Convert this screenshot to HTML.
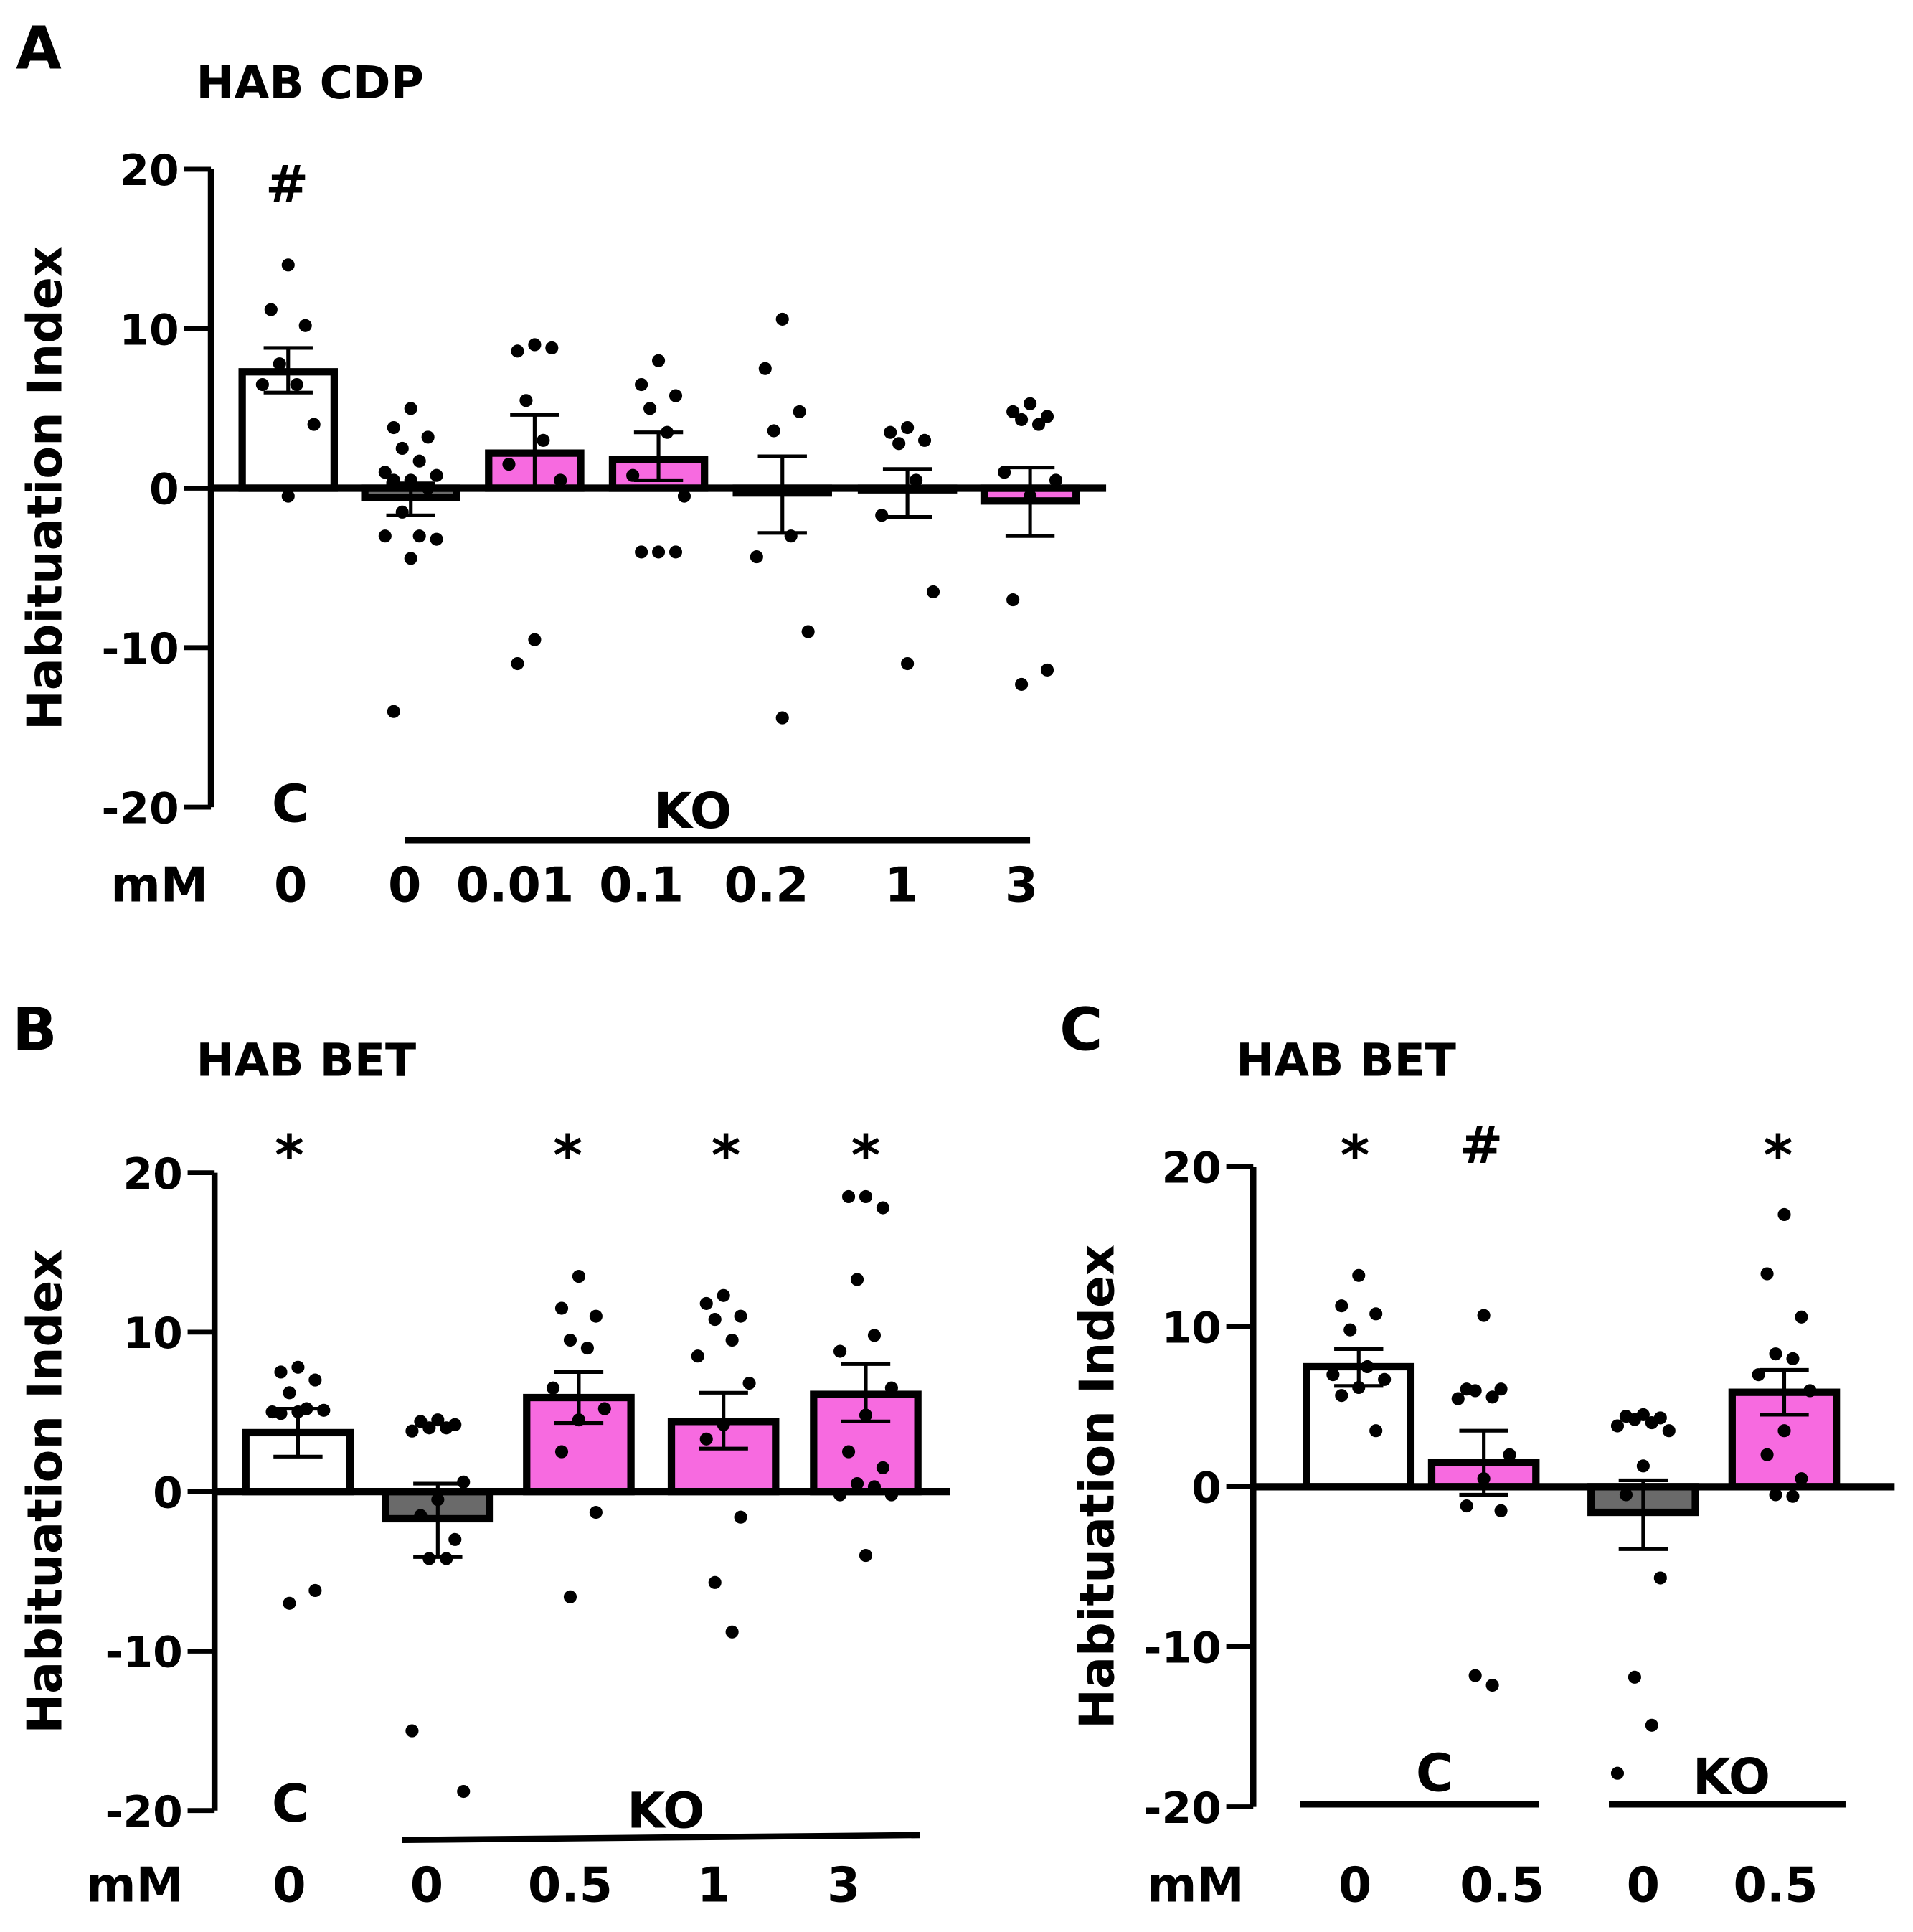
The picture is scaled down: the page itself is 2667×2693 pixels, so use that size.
<!DOCTYPE html>
<html><head><meta charset="utf-8"><style>
html,body{margin:0;padding:0;background:#fff}
svg{display:block}
text{font-family:"DejaVu Sans","Liberation Sans",sans-serif;font-weight:bold;fill:#000}
</style></head><body>
<svg id="fig" width="2667" height="2693" viewBox="0 0 1560 1575" preserveAspectRatio="none" xmlns="http://www.w3.org/2000/svg"></svg>
<script>
// Panel A data
const aCats=["C 0","KO 0","KO 0.01","KO 0.1","KO 0.2","KO 1","KO 3"];
const aMeans=[7.3,-0.6,2.2,1.8,-0.3,-0.1,-0.8];
const aErrLo=[6.0,-1.7,0.0,0.5,-2.8,-1.8,-3.0];
const aErrHi=[8.8,0.3,4.6,3.5,2.0,1.2,1.3];
const aPts=[[14,11.2,10.2,7.8,6.5,6.5,4,-0.5],[5,3.8,3.2,2.5,1.7,1,0.8,0.5,0.5,0,-1.5,-3,-3,-3.2,-4.4,-14],[9,8.6,8.8,5.5,3,1.5,0.5,-9.5,-11],[8,6.5,5.8,5,3.5,0.8,-0.5,-4,-4,-4],[10.6,7.5,4.8,3.6,-3,-4.3,-9,-14.4],[3.8,3.5,3,2.8,0.5,-1.7,-6.5,-11],[5.3,4.8,4.5,4.3,4,1,0.5,-0.5,-7,-11.4,-12.3]];
// Panel B data
const bCats=["C 0","KO 0","KO 0.5","KO 1","KO 3"];
const bMeans=[3.7,-1.7,5.9,4.4,6.1];
const bErrLo=[2.2,-4.1,4.3,2.7,4.4];
const bErrHi=[5.2,0.5,7.5,6.2,8.0];
const bPts=[[7.8,7.5,7,6.2,5.2,5,5.1,5,4.9,-6.2,-7],[4.5,4.4,4.2,4,4,3.8,0.6,-0.5,-1.5,-3,-4.2,-4.2,-15,-18.8],[13.5,11.5,11,9.5,9,6.5,5.2,4.5,2.5,-1.3,-6.6],[12.3,11.8,11,10.8,9.5,8.5,6.8,4.2,3.3,-1.6,-5.7,-8.8],[18.5,18.5,17.8,13.3,9.8,8.8,6.5,4.8,2.5,1.5,0.5,0.3,-0.2,-0.2,-4]];
// Panel C data
const cCats=["C 0","C 0.5","KO 0","KO 0.5"];
const cMeans=[7.5,1.5,-1.6,5.9];
const cErrLo=[6.3,-0.5,-3.9,4.5];
const cErrHi=[8.6,3.5,0.4,7.3];
const cPts=[[13.2,11.3,10.8,9.8,7.5,7,6.7,6.2,5.7,3.5],[10.7,6.1,6.1,6,5.6,5.5,2,0.5,-1.2,-1.5,-11.8,-12.4],[4.5,4.4,4.3,4.2,4,3.8,3.5,1.3,-0.5,-5.7,-11.9,-14.9,-17.9],[17,13.3,10.6,8.3,8,7,6,3.5,2,0.5,-0.5,-0.6]];
const yTicks=[20,10,0,-10,-20];

const NS="http://www.w3.org/2000/svg";
const svg=document.getElementById('fig');
function el(tag,attrs,parent){const e=document.createElementNS(NS,tag);for(const k in attrs)e.setAttribute(k,attrs[k]);(parent||svg).appendChild(e);return e;}
function txt(x,y,s,size,anchor,name,parent){const t=el('text',{x:x,y:y,'font-size':size,'text-anchor':anchor||'middle'},parent);t.textContent=s;


return t;}
const PINK="#f76ae0",GRAY="#6a6a6a",WHITE="#fff";

function panel(o){
  const g=el('g',{});
  
  
  const y=v=>o.y0-v*(o.y0-o.y20)/20;
  const ax=el('line',{x1:o.ax,y1:y(20),x2:o.ax,y2:y(-20),stroke:'#000','stroke-width':5},g);
  
  
  yTicks.forEach(t=>{
    const tk=el('line',{x1:o.ax-22,y1:y(t),x2:o.ax,y2:y(t),stroke:'#000','stroke-width':4},g);
    
    
    txt(o.ax-26,y(t)+13,String(t),35,'end','y-tick-label',g);
  });
  const yt=txt(0,0,'Habituation Index',39,'middle','y-axis-title',g);
  yt.setAttribute('transform','translate('+o.tx+','+((y(20)+y(-20))/2)+') rotate(-90)');
  o.means.forEach((m,i)=>{
    const cx=o.xs[i],w=o.bw;
    const top=Math.min(y(m),y(0)),h=Math.abs(y(m)-y(0));
    const r=el('rect',{x:cx-w/2,y:top,width:w,height:Math.max(h,1),fill:o.fills[i],stroke:'#000','stroke-width':6},g);
    
    
    o.pts[i].forEach((v,j)=>{
      const dx=[0,-14,14,-7,7,-21,21][j%7];
      const c=el('circle',{cx:cx+dx,cy:y(v),r:5.3,fill:'#000'},g);
      
      
    });
    const eb=el('path',{d:'M'+cx+','+y(o.lo[i])+'V'+y(o.hi[i])+'M'+(cx-20)+','+y(o.lo[i])+'h40M'+(cx-20)+','+y(o.hi[i])+'h40',stroke:'#000','stroke-width':3,fill:'none'},g);
    
    
  });
  const z=el('line',{x1:o.ax,y1:y(0),x2:o.zx,y2:y(0),stroke:'#000','stroke-width':6},g);
  
  
  return g;
}

// Panel A
panel({name:'panel-a',ax:172,y20:138,y0:398,tx:50,zx:902,bw:75,xs:[235,335,436,537,638,740,840],means:aMeans,lo:aErrLo,hi:aErrHi,pts:aPts,cats:aCats,fills:[WHITE,GRAY,PINK,PINK,PINK,PINK,PINK]});
txt(13,56,'A',48,'start','panel-label-a');
txt(160,80,'HAB CDP',37,'start','chart-title-a');
txt(234,165,'#',42,'middle','significance-mark');
txt(237,670,'C',42,'middle','group-label-c');
txt(565,675,'KO',40,'middle','group-label-ko');
let l=el('line',{x1:330,y1:685,x2:840,y2:685,stroke:'#000','stroke-width':5});


[['mM',130],['0',237],['0',330],['0.01',420],['0.1',523],['0.2',625],['1',735],['3',833]].forEach(a=>txt(a[1],735,a[0],39,'middle','dose-label'));

// Panel B
panel({name:'panel-b',ax:175,y20:956,y0:1216,tx:50,zx:775,bw:85,xs:[243,357,472,590,706],means:bMeans,lo:bErrLo,hi:bErrHi,pts:bPts,cats:bCats,fills:[WHITE,GRAY,PINK,PINK,PINK]});
txt(10,856,'B',48,'start','panel-label-b');
txt(160,877,'HAB BET',37,'start','chart-title-b');
[236,463,592,706].forEach(x=>txt(x,958,'*',46,'middle','significance-mark'));
txt(237,1485,'C',42,'middle','group-label-c');
txt(543,1490,'KO',40,'middle','group-label-ko');
l=el('line',{x1:328,y1:1500,x2:750,y2:1496,stroke:'#000','stroke-width':5});


[['mM',110],['0',236],['0',348],['0.5',465],['1',582],['3',688]].forEach(a=>txt(a[1],1550,a[0],39,'middle','dose-label'));

// Panel C
panel({name:'panel-c',ax:1022,y20:951,y0:1212,tx:908,zx:1545,bw:85,xs:[1108,1210,1340,1455],means:cMeans,lo:cErrLo,hi:cErrHi,pts:cPts,cats:cCats,fills:[WHITE,PINK,GRAY,PINK]});
txt(864,856,'C',48,'start','panel-label-c');
txt(1008,877,'HAB BET',37,'start','chart-title-c');
txt(1105,958,'*',46,'middle','significance-mark');
txt(1208,948,'#',42,'middle','significance-mark');
txt(1450,958,'*',46,'middle','significance-mark');
txt(1170,1460,'C',42,'middle','group-label-c');
txt(1412,1462,'KO',40,'middle','group-label-ko');
l=el('line',{x1:1060,y1:1471,x2:1255,y2:1471,stroke:'#000','stroke-width':5});


l=el('line',{x1:1312,y1:1471,x2:1505,y2:1471,stroke:'#000','stroke-width':5});


[['mM',975],['0',1105],['0.5',1225],['0',1340],['0.5',1448]].forEach(a=>txt(a[1],1550,a[0],39,'middle','dose-label'));
</script>
</body></html>
